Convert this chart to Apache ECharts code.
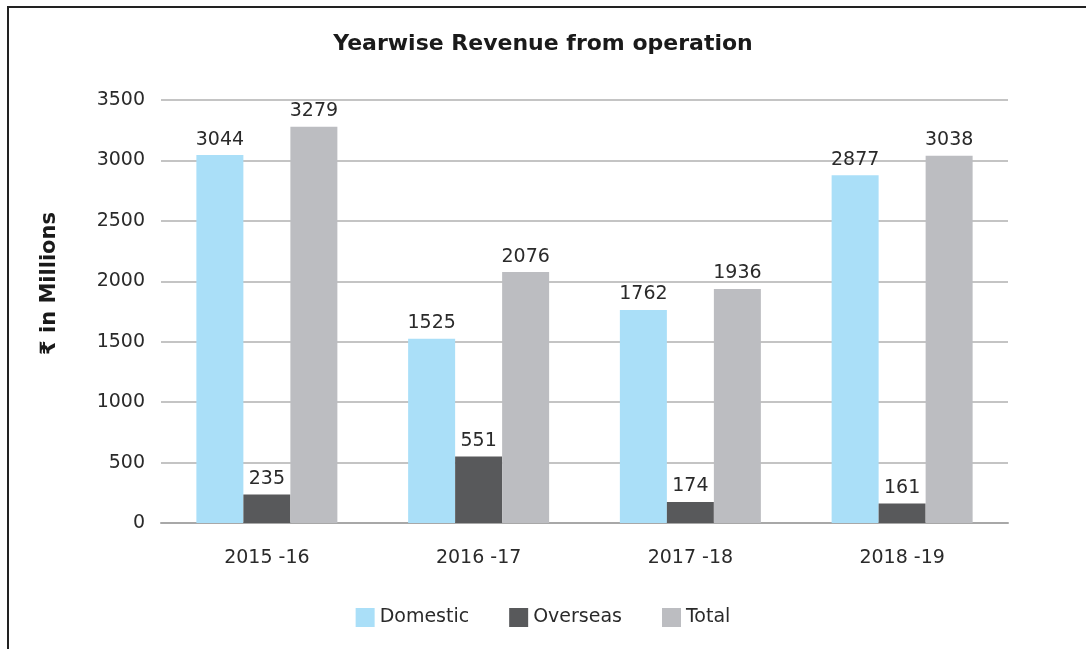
<!DOCTYPE html>
<html>
<head>
<meta charset="utf-8">
<script src="https://cdn.jsdelivr.net/npm/echarts@6/dist/echarts.min.js"></script>
<style>
  html, body { margin: 0; padding: 0; background: #fff; }
  #chart { width: 1086px; height: 649px; }
</style>
</head>
<body>
<div id="chart"></div>
<script>
// data
const years = ['2015 -16', '2016 -17', '2017 -18', '2018 -19'];
const domestic = [3044, 1525, 1762, 2877];
const overseas = [235, 551, 174, 161];
const total = [3279, 2076, 1936, 3038];
const seriesNames = ['Domestic', 'Overseas', 'Total'];
const colors = ['#aadff8', '#58595b', '#bcbdc1'];

const font = '"DejaVu Sans", "Noto Sans", sans-serif';
const chart = echarts.init(document.getElementById('chart'));

const option = {
  backgroundColor: '#fff',
  color: colors,
  animation: false,
  title: {
    text: 'Yearwise Revenue from operation',
    left: 'center',
    top: 28,
    textStyle: { fontFamily: font, fontSize: 22, fontWeight: 'bold', color: '#1a1a1a' }
  },
  legend: {
    bottom: 17,
    left: 'center',
    itemWidth: 19,
    itemHeight: 19,
    itemGap: 40,
    icon: 'rect',
    textStyle: { fontFamily: font, fontSize: 19, color: '#2a2a2a' },
    data: seriesNames
  },
  grid: { left: 161, right: 78, top: 100, bottom: 126 },
  xAxis: {
    type: 'category',
    data: years,
    axisTick: { show: false },
    axisLine: { lineStyle: { color: '#a8a8a8', width: 2 } },
    axisLabel: { fontFamily: font, fontSize: 19, color: '#2a2a2a', margin: 26 }
  },
  yAxis: {
    type: 'value',
    min: 0,
    max: 3500,
    interval: 500,
    name: '₹ in Millions',
    nameLocation: 'middle',
    nameGap: 101,
    nameTextStyle: {
      fontFamily: font, fontSize: 21, fontWeight: 'bold', color: '#1a1a1a',
      padding: [0, 0, 0, 56]
    },
    axisLabel: { fontFamily: font, fontSize: 19, color: '#2a2a2a', margin: 16, formatter: v => String(v) },
    axisLine: { show: false },
    axisTick: { show: false },
    splitLine: { lineStyle: { color: '#c4c4c4', width: 2 } }
  },
  graphic: [{
    type: 'rect',
    shape: { x: 8, y: 7, width: 1200, height: 800 },
    style: { fill: 'none', stroke: '#222', lineWidth: 2 },
    silent: true
  }],
  series: [domestic, overseas, total].map((d, i) => ({
    name: seriesNames[i],
    type: 'bar',
    data: d,
    barWidth: 47,
    barGap: '0%',
    label: {
      show: true,
      position: 'top',
      distance: 6,
      fontFamily: font,
      fontSize: 19,
      color: '#2a2a2a'
    }
  }))
};

chart.setOption(option);
</script>
</body>
</html>
